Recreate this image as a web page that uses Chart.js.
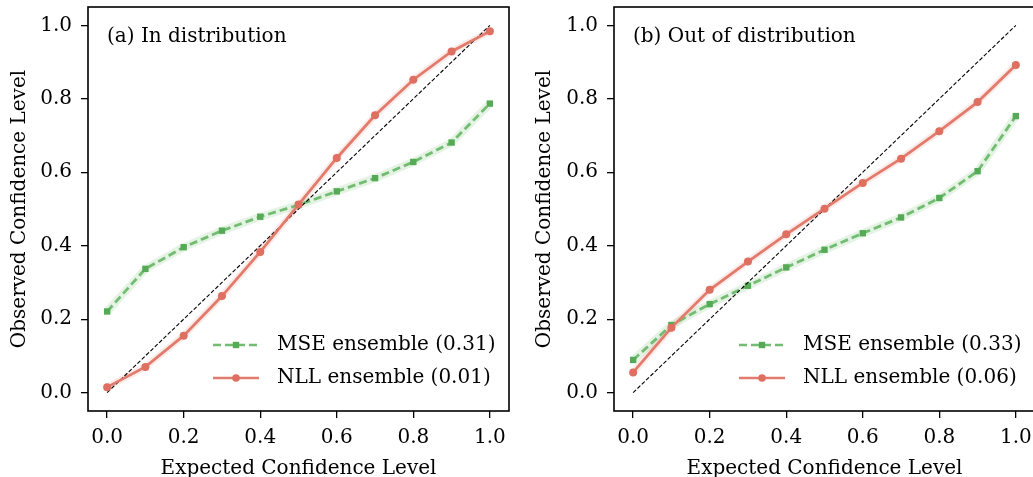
<!DOCTYPE html>
<html>
<head>
<meta charset="utf-8">
<script src="https://cdn.jsdelivr.net/npm/chart.js@4.4.1/dist/chart.umd.min.js"></script>
<style>
  html, body { margin: 0; padding: 0; background: #fff; overflow: hidden; width: 1033px; height: 477px; }
  canvas { position: absolute; top: 0; }
  #chartA { left: 0; }
  #chartB { left: 520px; }
</style>
</head>
<body>
<canvas id="chartA" width="520" height="490"></canvas>
<canvas id="chartB" width="530" height="490"></canvas>
<script>
'use strict';

// expected confidence levels (x axis)
const levels = [0, 0.1, 0.2, 0.3, 0.4, 0.5, 0.6, 0.7, 0.8, 0.9, 1.0];
const tickValues = [0, 0.2, 0.4, 0.6, 0.8, 1.0];
const diagonal = [0, 1];

// (a) in distribution
const mseIn = [0.221, 0.337, 0.396, 0.441, 0.479, 0.511, 0.548, 0.584, 0.628, 0.681, 0.787];
const nllIn = [0.015, 0.070, 0.155, 0.263, 0.383, 0.512, 0.639, 0.755, 0.852, 0.929, 0.984];

// (b) out of distribution
const mseOut = [0.089, 0.184, 0.241, 0.291, 0.341, 0.389, 0.434, 0.477, 0.530, 0.603, 0.753];
const nllOut = [0.055, 0.177, 0.280, 0.357, 0.431, 0.501, 0.571, 0.637, 0.712, 0.791, 0.892];

const panelTitles = ['(a) In distribution', '(b) Out of distribution'];
const mseLabels = ['MSE ensemble (0.31)', 'MSE ensemble (0.33)'];
const nllLabels = ['NLL ensemble (0.01)', 'NLL ensemble (0.06)'];

const GREEN_LINE = '#72bd72';
const GREEN_MARK = '#55aa55';
const GREEN_BAND = 'rgba(44,160,44,0.13)';
const RED_LINE = '#e27b6c';
const RED_MARK = '#df6f60';
const RED_BAND = 'rgba(214,60,40,0.10)';
const FONT = "'DejaVu Serif', serif";
const FONT_SIZE = 20;

Chart.defaults.font.family = FONT;
Chart.defaults.font.size = FONT_SIZE;
Chart.defaults.color = '#000';

const pts = (ys) => ys.map((y, i) => ({ x: levels[i], y: y }));

// box around the plot, panel title and the in-plot legend
const panelDeco = {
  id: 'panelDeco',
  afterDatasetsDraw(chart, args, opts) {
    const { ctx, chartArea: a } = chart;
    ctx.save();
    ctx.lineWidth = 1.6;
    ctx.strokeStyle = '#000';
    ctx.strokeRect(a.left, a.top, a.right - a.left, a.bottom - a.top);

    ctx.fillStyle = '#000';
    ctx.font = FONT_SIZE + 'px ' + FONT;
    ctx.textBaseline = 'middle';
    ctx.textAlign = 'left';
    ctx.fillText(opts.title, a.left + 19, a.top + 30);

    // legend rows
    const x1 = a.right - 296, x2 = x1 + 46, xm = (x1 + x2) / 2;
    const rows = [
      { y: a.bottom - 66, color: GREEN_LINE, mark: GREEN_MARK, dash: [8, 4], square: true, text: opts.mse },
      { y: a.bottom - 33, color: RED_LINE, mark: RED_MARK, dash: [], square: false, text: opts.nll },
    ];
    rows.forEach((r) => {
      ctx.lineWidth = 2.6;
      ctx.strokeStyle = r.color;
      ctx.setLineDash(r.dash);
      ctx.beginPath();
      ctx.moveTo(x1, r.y);
      ctx.lineTo(x2, r.y);
      ctx.stroke();
      ctx.setLineDash([]);
      ctx.fillStyle = r.mark;
      if (r.square) {
        ctx.fillRect(xm - 3.2, r.y - 3.2, 6.4, 6.4);
      } else {
        ctx.beginPath();
        ctx.arc(xm, r.y, 3.8, 0, Math.PI * 2);
        ctx.fill();
      }
      ctx.fillStyle = '#000';
      ctx.fillText(r.text, a.right - 232, r.y);
    });
    ctx.restore();
  },
};

function makePanel(id, mse, nll, idx, yAxisWidth, padRight, yTitlePad) {
  const canvas = document.getElementById(id);
  return new Chart(canvas.getContext('2d'), {
    type: 'scatter',
    data: {
      datasets: [
        {
          label: 'diag',
          data: diagonal.map((v) => ({ x: v, y: v })),
          showLine: true,
          borderColor: '#000',
          borderWidth: 1.1,
          borderDash: [4, 2],
          pointRadius: 0,
          order: 2,
        },
        {
          label: 'mse band',
          data: pts(mse),
          showLine: true,
          borderColor: GREEN_BAND,
          borderWidth: 8,
          pointRadius: 0,
          order: 5,
        },
        {
          label: 'nll band',
          data: pts(nll),
          showLine: true,
          borderColor: RED_BAND,
          borderWidth: 7,
          pointRadius: 0,
          order: 4,
        },
        {
          label: mseLabels[idx],
          data: pts(mse),
          showLine: true,
          borderColor: GREEN_LINE,
          borderWidth: 2.8,
          borderDash: [8, 4],
          pointStyle: 'rect',
          pointRadius: 4.5,
          pointBackgroundColor: GREEN_MARK,
          pointBorderWidth: 0,
          order: 3,
        },
        {
          label: nllLabels[idx],
          data: pts(nll),
          showLine: true,
          borderColor: RED_LINE,
          borderWidth: 2.8,
          pointStyle: 'circle',
          pointRadius: 4,
          pointBackgroundColor: RED_MARK,
          pointBorderWidth: 0,
          order: 1,
        },
      ],
    },
    options: {
      responsive: false,
      animation: false,
      devicePixelRatio: 1,
      layout: { padding: { top: 7, right: padRight, bottom: 0, left: 0 } },
      scales: {
        x: {
          type: 'linear',
          min: -0.05,
          max: 1.05,
          afterBuildTicks: (s) => { s.ticks = tickValues.map((v) => ({ value: v })); },
          afterFit: (s) => { s.height = 79; s.paddingLeft = 0; s.paddingRight = 0; },
          ticks: {
            padding: 8,
            callback: (v) => v.toFixed(1),
          },
          grid: { drawOnChartArea: false, drawTicks: true, tickLength: 7, tickColor: '#000', lineWidth: 1.3 },
          border: { display: false },
          title: { display: true, text: 'Expected Confidence Level', padding: { top: 0, bottom: 9 } },
        },
        y: {
          type: 'linear',
          min: -0.05,
          max: 1.05,
          afterBuildTicks: (s) => { s.ticks = tickValues.map((v) => ({ value: v })); },
          afterFit: (s) => { s.width = yAxisWidth; s.paddingTop = 0; s.paddingBottom = 0; },
          ticks: {
            padding: 9,
            callback: (v) => v.toFixed(1),
          },
          grid: { drawOnChartArea: false, drawTicks: true, tickLength: 7, tickColor: '#000', lineWidth: 1.3 },
          border: { display: false },
          title: { display: true, text: 'Observed Confidence Level', padding: { top: yTitlePad, bottom: 0 } },
        },
      },
      plugins: {
        legend: { display: false },
        tooltip: { enabled: false },
        panelDeco: { title: panelTitles[idx], mse: mseLabels[idx], nll: nllLabels[idx] },
      },
    },
    plugins: [panelDeco],
  });
}

makePanel('chartA', mseIn, nllIn, 0, 88, 11, 8);
makePanel('chartB', mseOut, nllOut, 1, 94, 15, 13);
</script>
</body>
</html>
